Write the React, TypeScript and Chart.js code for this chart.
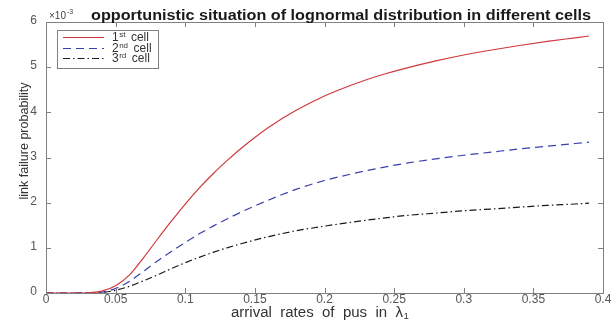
import React, { useEffect, useRef } from "react";
import { Chart, registerables } from "chart.js";

Chart.register(...registerables);

const xValues = [0, 0.01, 0.02, 0.03, 0.04, 0.05, 0.06, 0.07, 0.08, 0.09, 0.1, 0.11, 0.12, 0.13, 0.14, 0.16, 0.18, 0.2, 0.22, 0.24, 0.26, 0.28, 0.3, 0.32, 0.34, 0.36, 0.38, 0.39];
const cell1 = [0, 0, 0, 0.005, 0.04, 0.16, 0.4, 0.78, 1.19, 1.59, 1.97, 2.32, 2.64, 2.93, 3.2, 3.67, 4.05, 4.36, 4.61, 4.82, 4.99, 5.14, 5.27, 5.38, 5.48, 5.57, 5.65, 5.69];
const cell2 = [0, 0, 0, 0.003, 0.02, 0.1, 0.26, 0.48, 0.71, 0.92, 1.12, 1.31, 1.48, 1.64, 1.79, 2.06, 2.3, 2.49, 2.64, 2.77, 2.88, 2.97, 3.05, 3.12, 3.19, 3.25, 3.31, 3.34];
const cell3 = [0, 0, 0, 0.002, 0.01, 0.06, 0.15, 0.27, 0.4, 0.54, 0.67, 0.79, 0.9, 1.0, 1.09, 1.25, 1.38, 1.48, 1.57, 1.65, 1.72, 1.77, 1.82, 1.86, 1.9, 1.94, 1.97, 1.99];
const seriesNames = ["1st cell", "2nd cell", "3rd cell"];
const legendMain = ["1", "2", "3"];
const legendSup = ["st", "nd", "rd"];
const xTicks = [0, 0.05, 0.1, 0.15, 0.2, 0.25, 0.3, 0.35, 0.4];
const yTicks = [0, 1, 2, 3, 4, 5, 6];

const COLORS = ["#d0393c", "#3b3fae", "#1a1a1a"];
const DASHES: number[][] = [[], [8, 5], [7, 3, 1.5, 3]];
const FONT = "'Liberation Sans', Arial, sans-serif";

const decorPlugin = {
  id: "decor",
  afterDraw(chart: any) {
    const ctx = chart.ctx as CanvasRenderingContext2D;
    const { left, right, top, bottom } = chart.chartArea;
    const xs = chart.scales.x;
    const ys = chart.scales.y;
    ctx.save();
    // box
    ctx.strokeStyle = "#808080";
    ctx.lineWidth = 1;
    ctx.setLineDash([]);
    ctx.strokeRect(Math.round(left) + 0.5, Math.round(top) + 0.5, Math.round(right - left), Math.round(bottom - top));
    // ticks inward
    const tl = 5;
    ctx.beginPath();
    xTicks.forEach((v) => {
      const px = Math.round(xs.getPixelForValue(v)) + 0.5;
      ctx.moveTo(px, bottom);
      ctx.lineTo(px, bottom - tl);
      ctx.moveTo(px, top);
      ctx.lineTo(px, top + tl);
    });
    yTicks.forEach((v) => {
      const py = Math.round(ys.getPixelForValue(v)) + 0.5;
      ctx.moveTo(left, py);
      ctx.lineTo(left + tl, py);
      ctx.moveTo(right, py);
      ctx.lineTo(right - tl, py);
    });
    ctx.stroke();

    // tick labels
    ctx.fillStyle = "#555";
    ctx.font = `12px ${FONT}`;
    ctx.textBaseline = "middle";
    ctx.textAlign = "center";
    xTicks.forEach((v) => {
      ctx.fillText(String(v), xs.getPixelForValue(v), bottom + 7);
    });
    ctx.textAlign = "right";
    yTicks.forEach((v) => {
      ctx.fillText(String(v), left - 9, ys.getPixelForValue(v) - 1);
    });

    // title
    ctx.fillStyle = "#1a1a1a";
    ctx.font = `bold 14px ${FONT}`;
    ctx.textAlign = "left";
    const title = "opportunistic situation of lognormal distribution in different cells";
    const tw = ctx.measureText(title).width;
    ctx.save();
    ctx.translate(91, 16);
    ctx.scale(500 / tw, 1);
    ctx.fillText(title, 0, 0);
    ctx.restore();

    // exponent
    ctx.fillStyle = "#444";
    ctx.textAlign = "left";
    ctx.font = `10px ${FONT}`;
    ctx.fillText("\u00d710", left + 3, 16);
    const w10 = ctx.measureText("\u00d710").width;
    ctx.font = `7px ${FONT}`;
    ctx.fillText("-3", left + 3 + w10 + 1, 12);

    // y title
    ctx.save();
    ctx.translate(24, 141);
    ctx.rotate(-Math.PI / 2);
    ctx.textAlign = "center";
    ctx.fillStyle = "#333";
    ctx.font = `13px ${FONT}`;
    const yt = "link failure probability";
    const ytw = ctx.measureText(yt).width;
    ctx.scale(117 / ytw, 1);
    ctx.fillText(yt, 0, 0);
    ctx.restore();

    // x title
    ctx.fillStyle = "#333";
    ctx.font = `14px ${FONT}`;
    ctx.textAlign = "left";
    const xt = "arrival  rates  of  pus  in  \u03bb";
    const wxt = ctx.measureText(xt).width;
    ctx.save();
    const sx = 172 / wxt;
    ctx.translate(231, 313);
    ctx.scale(sx, 1);
    ctx.fillText(xt, 0, 0);
    ctx.font = `9px ${FONT}`;
    ctx.fillText("1", wxt + 0.5, 4);
    ctx.restore();

    // legend
    const lx = 57, ly = 30, lw = 101, lh = 38;
    ctx.fillStyle = "#fff";
    ctx.fillRect(lx, ly, lw, lh);
    ctx.strokeStyle = "#808080";
    ctx.lineWidth = 1;
    ctx.strokeRect(lx + 0.5, ly + 0.5, lw, lh);
    const rows = [37, 48, 58];
    rows.forEach((ry, i) => {
      ctx.strokeStyle = COLORS[i];
      ctx.lineWidth = 1.2;
      ctx.setLineDash(DASHES[i]);
      ctx.beginPath();
      ctx.moveTo(63, ry + 0.5);
      ctx.lineTo(104, ry + 0.5);
      ctx.stroke();
      ctx.setLineDash([]);
      ctx.fillStyle = "#333";
      ctx.font = `12px ${FONT}`;
      ctx.textBaseline = "middle";
      ctx.textAlign = "left";
      ctx.fillText(legendMain[i], 112, ry + 1);
      const wm = ctx.measureText(legendMain[i]).width;
      ctx.font = `8px ${FONT}`;
      ctx.fillText(legendSup[i], 112 + wm + 0.5, ry - 2);
      const ws = ctx.measureText(legendSup[i]).width;
      ctx.font = `12px ${FONT}`;
      ctx.fillText("cell", 112 + wm + ws + 6, ry + 1);
    });
    ctx.restore();
  },
};

export default function App() {
  const ref = useRef<HTMLCanvasElement | null>(null);
  useEffect(() => {
    document.body.style.margin = "0";
    if (!ref.current) return;
    const mk = (vals: number[]) => xValues.map((x, i) => ({ x, y: vals[i] }));
    const chart = new Chart(ref.current, {
      type: "line",
      data: {
        datasets: [cell1, cell2, cell3].map((vals, i) => ({
          label: seriesNames[i],
          data: mk(vals),
          borderColor: COLORS[i],
          borderWidth: 1.2,
          borderDash: DASHES[i],
          pointRadius: 0,
          fill: false,
          cubicInterpolationMode: "monotone" as const,
        })),
      },
      options: {
        responsive: false,
        animation: false,
        layout: { padding: { left: 46, right: 13, top: 22, bottom: 30 } },
        plugins: { legend: { display: false }, tooltip: { enabled: false }, title: { display: false } },
        scales: {
          x: { type: "linear", min: 0, max: 0.4, display: false },
          y: { min: 0, max: 6, display: false },
        },
      },
      plugins: [decorPlugin],
    });
    return () => chart.destroy();
  }, []);
  return <canvas ref={ref} width={616} height={323} style={{ display: "block" }} />;
}
